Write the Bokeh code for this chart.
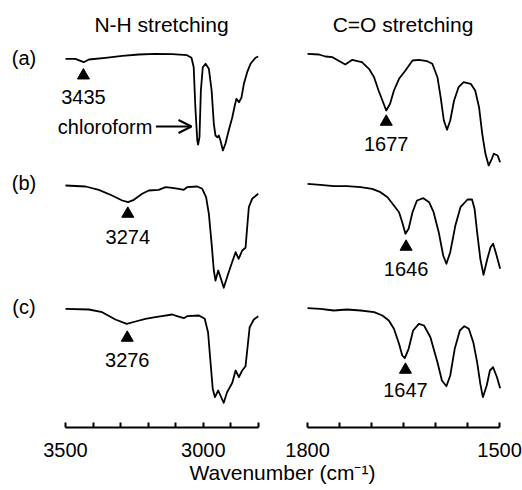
from bokeh.plotting import figure
from bokeh.models import Range1d, FixedTicker, Arrow, OpenHead, LinearAxis
from bokeh.core.properties import value
from bokeh.embed import file_html
from bokeh.resources import INLINE

FONT = "Liberation Sans"

# ---------------- data ----------------
# N-H stretching region (wavenumber, cm-1) ; y = offset transmittance (a.u.)
nh_a_x = [3500, 3464, 3434, 3415, 3355, 3294, 3234, 3174, 3113, 3059, 3043, 3035, 3029, 3022, 3019, 3014,
          3009, 3002, 2992, 2980, 2970, 2962, 2956, 2949, 2944, 2938, 2929, 2920, 2908, 2895, 2886, 2880,
          2871, 2862, 2853, 2841, 2829, 2811, 2801]
nh_a_y = [368.7, 368.7, 365.3, 368, 369.7, 371.7, 373, 373.7, 373.3, 372.3, 369.7, 360.3, 320.3, 287, 283, 290.3,
          337, 360.3, 363.7, 358.7, 337, 303.7, 292, 290.3, 292, 287, 277, 283.7, 297, 310.3, 322, 328.7,
          325.3, 329.7, 343.7, 355.3, 363.7, 369.7, 371]

nh_b_x = [3500, 3427, 3379, 3331, 3294, 3273, 3252, 3222, 3198, 3162, 3137, 3113, 3089, 3071, 3059, 3022,
          3004, 2990, 2980, 2970, 2962, 2956, 2946, 2938, 2926, 2914, 2902, 2883, 2872, 2859, 2847, 2841,
          2835, 2823, 2801]
nh_b_y = [242, 241, 237.7, 232, 227, 225.3, 227.7, 233.7, 237, 237.7, 240.3, 239.7, 238.7, 237.7, 240.3, 241,
          238.7, 230.3, 213.7, 183.7, 157, 147, 157, 150.3, 139.7, 150.3, 160.3, 175.3, 168.7, 177, 179.7, 200.3,
          220.3, 228.7, 233.7]

nh_c_x = [3500, 3415, 3367, 3319, 3278, 3246, 3210, 3174, 3150, 3113, 3095, 3071, 3059, 3016, 2995, 2983,
          2974, 2966, 2958, 2946, 2938, 2926, 2914, 2895, 2883, 2871, 2859, 2847, 2839, 2832, 2817, 2801]
nh_c_y = [118.7, 118, 115.3, 108, 103.7, 106, 108.7, 110.3, 111.3, 113, 111.3, 109.3, 111.3, 112, 108.7, 95.3,
          65.3, 38.7, 30.3, 37, 32, 24.7, 35.3, 44.7, 57, 50.3, 57, 61.3, 82, 100.3, 108, 111.3]

# C=O stretching region
co_a_x = [1800, 1782, 1772, 1761, 1754, 1741, 1730, 1722, 1715, 1704, 1696, 1689, 1681, 1677, 1671, 1665,
          1657, 1647, 1636, 1626, 1613, 1605, 1597, 1592, 1587, 1582, 1577, 1571, 1564, 1556, 1545, 1538,
          1532, 1527, 1522, 1517, 1512, 1509, 1503, 1499]
co_a_y = [373.7, 373, 371, 370.3, 367.7, 363, 367.7, 366.3, 365.3, 358.7, 350.3, 337, 323.7, 317, 323.7, 337,
          348.7, 357, 367, 367.7, 366.3, 363.7, 350.3, 330.3, 307, 297.7, 307, 327, 340.3, 345.3, 343.7, 337,
          320.3, 293.7, 273.7, 262, 268.7, 273.7, 272, 265.3]

co_b_x = [1800, 1780, 1759, 1738, 1717, 1699, 1686, 1675, 1665, 1657, 1652, 1647, 1642, 1636, 1629, 1619,
          1610, 1603, 1595, 1588, 1583, 1577, 1569, 1561, 1550, 1543, 1539, 1535, 1530, 1525, 1519, 1514,
          1510, 1506, 1499]
co_b_y = [243.7, 242.7, 241.3, 241.3, 240.3, 238.7, 235.3, 230.3, 222, 215.3, 205.3, 193.7, 198.7, 215.3, 227, 229.3,
          225.3, 215.3, 195.3, 172, 163.7, 175.3, 202, 220.3, 228, 228, 218.7, 195.3, 168.7, 152.7, 168.7, 180.3,
          183.7, 175.3, 158.7]

co_c_x = [1800, 1780, 1759, 1738, 1717, 1696, 1683, 1673, 1665, 1657, 1652, 1648, 1642, 1635, 1626, 1618,
          1608, 1597, 1590, 1583, 1577, 1570, 1562, 1555, 1548, 1541, 1535, 1530, 1526, 1520, 1515, 1510,
          1504, 1499]
co_c_y = [119.3, 118.7, 117, 118, 117, 115.3, 112, 107, 98.7, 83.7, 72, 69.3, 78.7, 97, 103.7, 102,
          90.3, 65.3, 47, 41.3, 52, 78.7, 97, 101.3, 98.7, 85.3, 65.3, 43.7, 30.3, 42, 57, 60.3,
          50.3, 39.3]

# peak markers and labels
nh_peaks = [3435, 3274, 3276]
nh_peak_labels = ["3435", "3274", "3276"]
nh_marker_y = [352, 213.7, 89.7]
nh_label_y = [330.5, 190.5, 67.5]

co_peaks = [1677, 1646, 1647]
co_peak_labels = ["1677", "1646", "1647"]
co_marker_y = [305.7, 180.7, 57.7]
co_label_y = [283.8, 158.8, 37.5]

panel_names = ["(a)", "(b)", "(c)"]
panel_name_y = [369.3, 244.8, 120.8]

nh_ticks = [2800, 2900, 3000, 3100, 3200, 3300, 3400, 3500]
nh_tick_labels = {3500: "3500", 3000: "3000"}
co_ticks = [1500, 1550, 1600, 1650, 1700, 1750, 1800]
co_tick_labels = {1800: "1800", 1500: "1500"}

# ---------------- figure ----------------
p = figure(width=522, height=490,
           x_range=Range1d(3735.7, 1842.5), y_range=Range1d(-63, 427),
           output_backend="svg", toolbar_location=None,
           x_axis_location=None, y_axis_location=None,
           min_border_left=0, min_border_right=0, min_border_top=0, min_border_bottom=0)
p.extra_x_ranges = {"co": Range1d(2279.7, 1464.1)}
p.grid.visible = False
p.outline_line_color = None
p.background_fill_color = "white"
p.border_fill_color = "white"


def make_axis(ticks, labels, bounds, range_name):
    ax = LinearAxis(x_range_name=range_name, fixed_location=0,
                    ticker=FixedTicker(ticks=ticks, minor_ticks=[]),
                    bounds=bounds)
    ax.major_label_overrides = {t: labels.get(t, "") for t in ticks}
    ax.major_tick_in = 5
    ax.major_tick_out = 0
    ax.minor_tick_in = 0
    ax.minor_tick_out = 0
    ax.axis_line_width = 2
    ax.major_tick_line_width = 2
    ax.axis_line_color = "black"
    ax.major_tick_line_color = "black"
    ax.major_label_text_font = FONT
    ax.major_label_text_font_size = "20px"
    ax.major_label_text_color = "black"
    ax.major_label_standoff = 15
    p.add_layout(ax, "below")


make_axis(nh_ticks, nh_tick_labels, (2800, 3500), "default")
make_axis(co_ticks, co_tick_labels, (1500, 1800), "co")

txt = dict(text_font=value(FONT), text_font_size=value("20px"), text_color="black",
           text_align="center", text_baseline="middle")
ttl = dict(txt, text_font_size=value("21px"))

# ---- N-H stretching panel ----
for xs, ys in [(nh_a_x, nh_a_y), (nh_b_x, nh_b_y), (nh_c_x, nh_c_y)]:
    p.line(xs, ys, line_color="black", line_width=1.8, line_join="round")
p.scatter(nh_peaks, nh_marker_y, marker="triangle", size=12, fill_color="black", line_color="black")
p.text(nh_peaks, nh_label_y, text=nh_peak_labels, **txt)
p.text([3650.5] * 3, panel_name_y, text=panel_names, **txt)
p.text([3151.8], [403], text=["N-H stretching"], **ttl)
p.text([3185], [300.7], text=["chloroform"], **dict(txt, text_align="right"))
p.add_layout(Arrow(end=OpenHead(size=13, line_width=2, line_color="black"),
                   x_start=3172, y_start=301, x_end=3043, y_end=301,
                   line_width=2, line_color="black"))

# ---- C=O stretching panel ----
for xs, ys in [(co_a_x, co_a_y), (co_b_x, co_b_y), (co_c_x, co_c_y)]:
    p.line(xs, ys, line_color="black", line_width=1.8, line_join="round", x_range_name="co")
p.scatter(co_peaks, co_marker_y, marker="triangle", size=12, fill_color="black", line_color="black",
          x_range_name="co")
p.text(co_peaks, co_label_y, text=co_peak_labels, x_range_name="co", **txt)
p.text([1650.8], [403], text=["C=O stretching"], x_range_name="co", **ttl)

# ---- shared axis title ----
p.text([2713], [-45], text=["Wavenumber (cm\u207b\u00b9)"], **ttl)

open("out.html", "w").write(file_html(p, INLINE))
